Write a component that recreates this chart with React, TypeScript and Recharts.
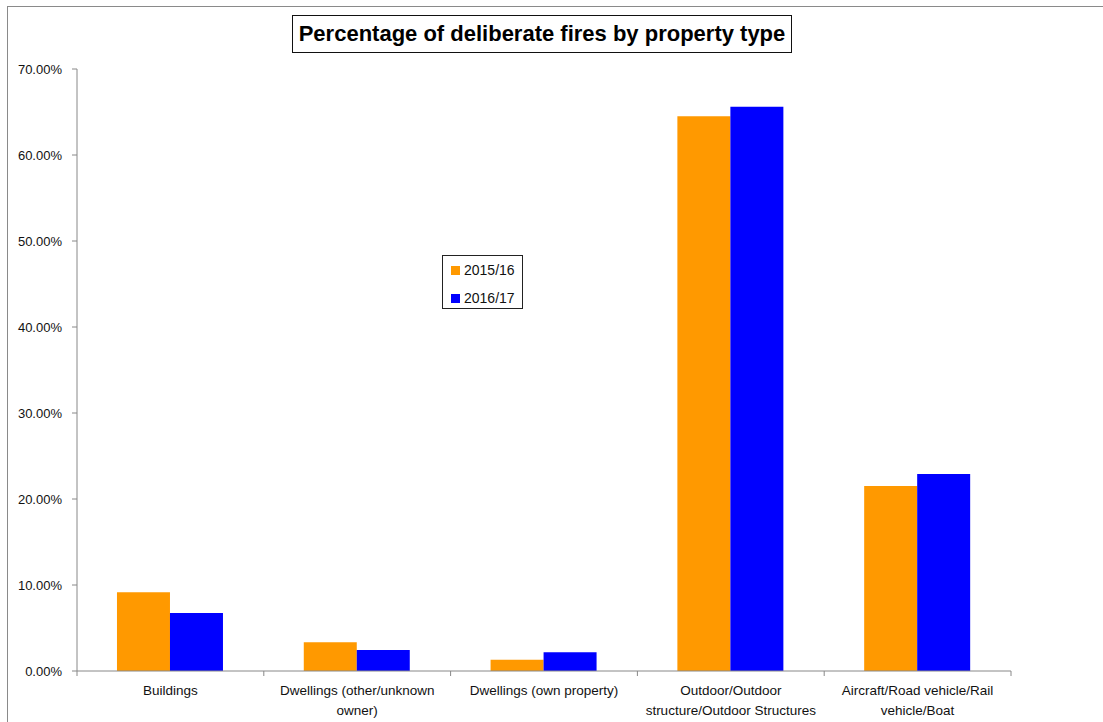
import React from 'react';
import { BarChart, Bar, XAxis, YAxis, Legend } from 'recharts';

const categories = [
  'Buildings',
  'Dwellings (other/unknown owner)',
  'Dwellings (own property)',
  'Outdoor/Outdoor structure/Outdoor Structures',
  'Aircraft/Road vehicle/Rail vehicle/Boat',
];
const tickLabelLines = [
  ['Buildings'],
  ['Dwellings (other/unknown', 'owner)'],
  ['Dwellings (own property)'],
  ['Outdoor/Outdoor', 'structure/Outdoor Structures'],
  ['Aircraft/Road vehicle/Rail', 'vehicle/Boat'],
];
const series2015 = [9.15, 3.34, 1.31, 64.5, 21.5];
const series2016 = [6.74, 2.44, 2.17, 65.6, 22.9];
const seriesNames = ['2015/16', '2016/17'];
const yTicks = [0, 10, 20, 30, 40, 50, 60, 70];
const title = 'Percentage of deliberate fires by property type';

const data = categories.map((c, i) => ({ name: c, a: series2015[i], b: series2016[i] }));

const FONT = '"Liberation Sans", Arial, sans-serif';
const AXIS = '#888';

const CatTick = (props: any) => {
  const { x, y, payload, visibleTicksCount } = props;
  const idx = payload && payload.index != null ? payload.index : props.index;
  const lines = tickLabelLines[idx] || [String(payload.value)];
  const half = payload && payload.offset ? payload.offset : 93.4;
  const isLast = idx === (visibleTicksCount ? visibleTicksCount - 1 : categories.length - 1);
  return (
    <g>
      <line x1={x - half} x2={x - half} y1={y} y2={y + 5} stroke={AXIS} />
      {isLast && <line x1={x + half} x2={x + half} y1={y} y2={y + 5} stroke={AXIS} />}
      <text x={x} y={y} textAnchor="middle" fontFamily={FONT} fontSize={13.5} fill="#111">
        {lines.map((l, i) => (
          <tspan key={i} x={x} dy={i === 0 ? 24 : 20}>{l}</tspan>
        ))}
      </text>
    </g>
  );
};

const LegendBox = (props: any) => {
  const payload = props.payload || [];
  return (
    <div style={{ width: 79, height: 52, border: '1px solid #222', background: '#fff', boxSizing: 'content-box', position: 'relative', fontFamily: FONT, fontSize: 14, color: '#111' }}>
      {payload.map((p: any, i: number) => (
        <div key={i} style={{ position: 'absolute', left: 8, top: 6 + i * 28, height: 16, display: 'flex', alignItems: 'center' }}>
          <span style={{ display: 'inline-block', width: 9, height: 9, background: p.color, marginRight: 4 }} />
          <span style={{ lineHeight: '16px' }}>{p.value}</span>
        </div>
      ))}
    </div>
  );
};

export default function App() {
  return (
    <div style={{ position: 'absolute', left: 0, top: 0, width: 1103, height: 722, overflow: 'hidden', background: '#fff' }}>
      <div style={{ position: 'absolute', left: 7, top: 6, width: 1200, height: 800, borderLeft: '1px solid #8a8a8a', borderTop: '1px solid #8a8a8a' }} />
      <div style={{ position: 'absolute', left: 0, top: 0 }}>
        <BarChart
          width={1103}
          height={722}
          data={data}
          margin={{ top: 69, right: 92, bottom: 0, left: 0 }}
          barCategoryGap="21.4%"
          barGap={0}
        >
          <XAxis
            dataKey="name"
            type="category"
            axisLine={{ stroke: AXIS }}
            tickLine={false}
            tickSize={0}
            tickMargin={0}
            interval={0}
            height={51}
            tick={<CatTick />}
          />
          <YAxis
            domain={[0, 70]}
            ticks={yTicks}
            width={77}
            stroke={AXIS}
            tickSize={5}
            tickMargin={10}
            tick={{ fill: '#111', fontFamily: FONT, fontSize: 13 }}
            tickFormatter={(v: number) => `${v.toFixed(2)}%`}
            allowDataOverflow
          />
          <Legend
            layout="vertical"
            align="center"
            verticalAlign="middle"
            wrapperStyle={{ position: 'absolute', left: 442, top: 255, width: 81, height: 54 }}
            content={<LegendBox />}
          />
          <Bar dataKey="a" name={seriesNames[0]} fill="#FF9900" isAnimationActive={false} />
          <Bar dataKey="b" name={seriesNames[1]} fill="#0000FF" isAnimationActive={false} />
        </BarChart>
      </div>
      <div style={{ position: 'absolute', left: 292, top: 15, width: 498, height: 36, border: '1px solid #111', background: '#fff', display: 'flex', alignItems: 'center', justifyContent: 'center', fontFamily: FONT, fontWeight: 'bold', fontSize: 22, color: '#000', whiteSpace: 'nowrap' }}>
        {title}
      </div>
    </div>
  );
}
